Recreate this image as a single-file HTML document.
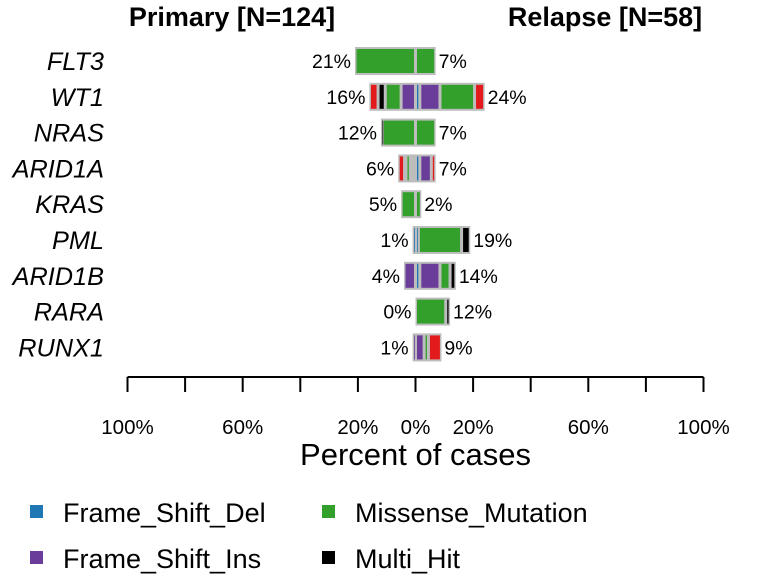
<!DOCTYPE html>
<html><head><meta charset="utf-8"><style>
body{margin:0;background:#fff;}
svg{display:block;font-family:"Liberation Sans",sans-serif;}
</style></head><body>
<svg id="c" width="768" height="576"></svg>
<script>
const genes=["FLT3","WT1","NRAS","ARID1A","KRAS","PML","ARID1B","RARA","RUNX1"];
const primaryPct=[21,16,12,6,5,1,4,0,1];
const relapsePct=[7,24,7,7,2,19,14,12,9];
// segments listed from center outward: [type, percent]
const primarySegs=[
 [["Missense_Mutation",21]],
 [["Frame_Shift_Ins",5],["Missense_Mutation",5.5],["Multi_Hit",2.5],["Nonsense_Mutation",3]],
 [["Missense_Mutation",11.5],["Multi_Hit",0.5]],
 [["None",1.8],["Missense_Mutation",1.5],["None",0.5],["Nonsense_Mutation",2.2]],
 [["Missense_Mutation",5]],
 [["Frame_Shift_Del",1]],
 [["Frame_Shift_Ins",4]],
 [],
 [["Frame_Shift_Ins",1]]
];
const relapseSegs=[
 [["Missense_Mutation",7]],
 [["Frame_Shift_Del",1.5],["Frame_Shift_Ins",7],["Missense_Mutation",12],["Nonsense_Mutation",3.5]],
 [["Missense_Mutation",7]],
 [["Frame_Shift_Del",1.5],["Frame_Shift_Ins",4],["Nonsense_Mutation",1.5]],
 [["Missense_Mutation",2]],
 [["Frame_Shift_Del",1],["Missense_Mutation",15],["Multi_Hit",3]],
 [["Frame_Shift_Del",1.5],["Frame_Shift_Ins",7],["Missense_Mutation",3.5],["Multi_Hit",2]],
 [["Missense_Mutation",10.5],["Multi_Hit",1.5]],
 [["Frame_Shift_Ins",3],["Missense_Mutation",1.5],["Nonsense_Mutation",4.5]]
];
const tickVals=[-100,-80,-60,-40,-20,0,20,40,60,80,100];
const tickLabelVals=[-100,-60,-20,0,20,60,100];
const legendItems=["Frame_Shift_Del","Missense_Mutation","Frame_Shift_Ins","Multi_Hit"];
const colors={Frame_Shift_Del:"#1F78B4",Missense_Mutation:"#33A02C",Frame_Shift_Ins:"#6A3D9A",Multi_Hit:"#000000",Nonsense_Mutation:"#E31A1C",None:"#BDBDBD"};

const NS="http://www.w3.org/2000/svg";
const svg=document.getElementById("c");
const cx=415.5, k=2.88;
const x=v=>cx+v*k;
const y=i=>61+i*35.8;
function el(t,a,p){const e=document.createElementNS(NS,t);for(const q in a)e.setAttribute(q,a[q]);(p||svg).appendChild(e);return e;}
function txt(s,a){const e=el("text",a);e.textContent=s;return e;}

const t1=txt("Primary [N=124]",{x:232,y:26,"text-anchor":"middle","font-size":27,"font-weight":"bold"});


const t2=txt("Relapse [N=58]",{x:605,y:26,"text-anchor":"middle","font-size":27,"font-weight":"bold"});



genes.forEach((g,i)=>{
 const yc=y(i), h=28, top=yc-h/2;
 const gl=txt(g,{x:104,y:yc+9,"text-anchor":"end","font-size":25.3,"font-style":"italic"});
 
 
 const grp=el("g",{});
 
 
 if(primaryPct[i]>0)el("rect",{x:x(-primaryPct[i]),y:top,width:primaryPct[i]*k,height:h,fill:"#BDBDBD"},grp);
 if(relapsePct[i]>0)el("rect",{x:cx,y:top,width:relapsePct[i]*k,height:h,fill:"#BDBDBD"},grp);
 let acc=0;
 primarySegs[i].forEach(s=>{
  const x0=x(-(acc+s[1])), w=s[1]*k;
  const r=el("rect",{x:x0+1.5,y:top+2,width:Math.max(w-3,0.8),height:h-4,fill:colors[s[0]]},grp);
  
  
  acc+=s[1];
 });
 acc=0;
 relapseSegs[i].forEach(s=>{
  const x0=x(acc), w=s[1]*k;
  const r=el("rect",{x:x0+1.5,y:top+2,width:Math.max(w-3,0.8),height:h-4,fill:colors[s[0]]},grp);
  
  
  acc+=s[1];
 });
 const pl=txt(primaryPct[i]+"%",{x:x(-primaryPct[i])-4,y:yc+7,"text-anchor":"end","font-size":19.5});
 
 
 const rl=txt(relapsePct[i]+"%",{x:x(relapsePct[i])+3,y:yc+7,"font-size":19.5});
 
 
});

const ax=el("g",{});


el("line",{x1:x(-100),x2:x(100),y1:377,y2:377,stroke:"#000","stroke-width":2},ax);
tickVals.forEach(v=>{el("line",{x1:x(v),x2:x(v),y1:377,y2:392,stroke:"#000","stroke-width":2},ax);});
tickLabelVals.forEach(v=>{
 const t=txt(Math.abs(v)+"%",{x:x(v),y:434,"text-anchor":"middle","font-size":20.5});
 
 
});
const xt=txt("Percent of cases",{x:x(0),y:465,"text-anchor":"middle","font-size":31});



const lpos=[[30,512],[322,512],[30,558],[322,558]];
legendItems.forEach((m,i)=>{
 const g=el("g",{});
 
 
 el("rect",{x:lpos[i][0],y:lpos[i][1]-7,width:13,height:13,fill:colors[m]},g);
 const t=txt(m,{x:lpos[i][0]+33,y:lpos[i][1]+10,"font-size":27});
 g.appendChild(t);
});
</script>
</body></html>
